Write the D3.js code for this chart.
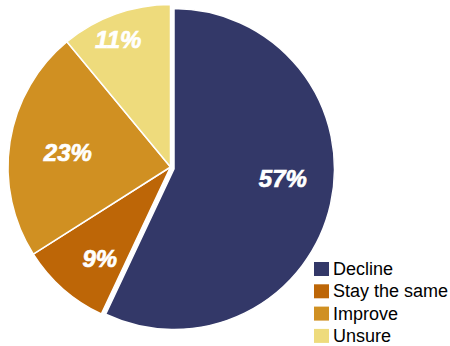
<!DOCTYPE html>
<html>
<head>
<meta charset="utf-8">
<script src="https://cdn.jsdelivr.net/npm/d3@7"></script>
<style>
  html, body { margin: 0; padding: 0; background: #ffffff; }
  svg { display: block; }
</style>
</head>
<body>
<svg id="chart" width="450" height="346"></svg>
<script>
// Survey outlook shares (percent)
const categories = ["Decline", "Stay the same", "Improve", "Unsure"];
const values = [57, 9, 23, 11];
const colors = ["#333868", "#bd6607", "#d09022", "#eedb7c"];

// Layout
const center = { x: 170.5, y: 167 };
const radius = 162.5;
// The first slice is pulled out slightly from the pie
const explode = [{ dx: 3.5, dy: 2, r: 160.5 }, null, null, null];
// Label placement: distance along the bisector plus a small per-label nudge
const labelRadius = 110;
const labelNudge = [[1.5, -15], [2, 8.5], [6, 3], [-15, -24]];

const svg = d3.select("#chart");

const pie = d3.pie().sort(null).value(d => d.value)
  .startAngle(0).endAngle(2 * Math.PI);

const data = categories.map((c, i) => ({ name: c, value: values[i], color: colors[i], i }));
const arcs = pie(data);

const g = svg.append("g");

arcs.forEach(a => {
  const ex = explode[a.data.i];
  const cx = center.x + (ex ? ex.dx : 0);
  const cy = center.y + (ex ? ex.dy : 0);
  const r = ex ? ex.r : radius;
  const arc = d3.arc().innerRadius(0).outerRadius(r);
  const sg = g.append("g").attr("transform", `translate(${cx},${cy})`);
  sg.append("path")
    .attr("d", arc(a))
    .attr("fill", a.data.color)
    .attr("stroke", "#ffffff")
    .attr("stroke-width", 1.5)
    .attr("stroke-linejoin", "round");

  const labelArc = d3.arc().innerRadius(labelRadius).outerRadius(labelRadius);
  const [lx, ly] = labelArc.centroid(a);
  const n = labelNudge[a.data.i];
  sg.append("text")
    .attr("x", lx + n[0])
    .attr("y", ly + n[1])
    .attr("text-anchor", "middle")
    .attr("dominant-baseline", "central")
    .attr("font-family", "'Liberation Sans', Arial, sans-serif")
    .attr("font-weight", "bold")
    .attr("font-style", "italic")
    .attr("font-size", 24)
    .attr("fill", "#ffffff")
    .attr("stroke", "#ffffff")
    .attr("stroke-width", 0.7)
    .text(a.data.value + "%");
});

// Legend
const legend = svg.append("g").attr("transform", "translate(314,275)");
const step = 22.3;
data.forEach((d, i) => {
  const row = legend.append("g").attr("transform", `translate(0,${i * step})`);
  row.append("rect")
    .attr("x", 0).attr("y", -13)
    .attr("width", 15).attr("height", 14)
    .attr("fill", d.color);
  row.append("text")
    .attr("x", 19).attr("y", 0)
    .attr("font-family", "'Liberation Sans', Arial, sans-serif")
    .attr("font-size", 18)
    .attr("fill", "#000000")
    .text(d.name);
});
</script>
</body>
</html>
